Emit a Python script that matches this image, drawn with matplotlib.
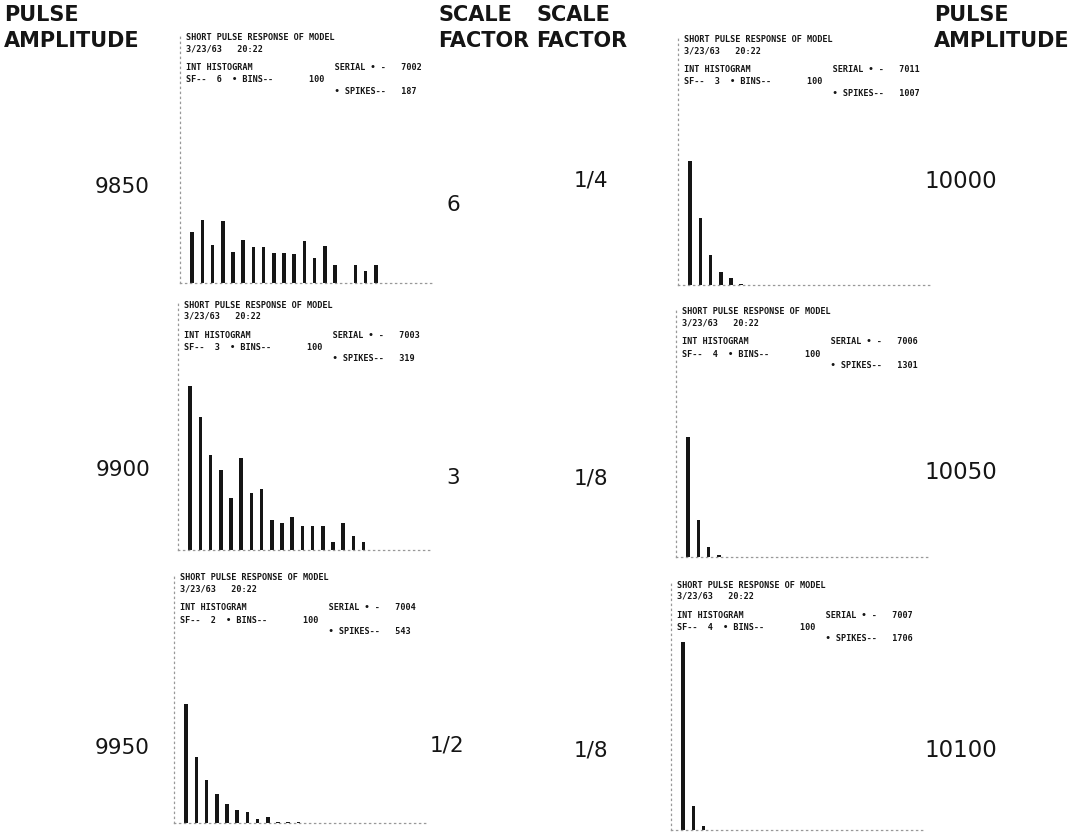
import matplotlib.pyplot as plt
import numpy as np

W, H = 1092, 838

# interval histograms, bar heights (display units)
amplitudes = ["9850", "9900", "9950", "10000", "10050", "10100"]
scale_factors = ["6", "3", "1/2", "1/4", "1/8", "1/8"]
serials = ["7002", "7003", "7004", "7011", "7006", "7007"]
sf_codes = ["6", "3", "2", "3", "4", "4"]
spikes = ["187", "319", "543", "1007", "1301", "1706"]

counts_9850 = [51, 63, 38, 62, 31, 43, 36, 36, 30, 30, 29, 42, 25, 37, 18, 0, 18, 12, 18]
counts_9900 = [164, 133, 95, 80, 52, 92, 57, 61, 30, 27, 33, 24, 24, 24, 8, 27, 14, 8]
counts_9950 = [119, 66, 43, 29, 19, 13, 11, 4.3, 6.3, 1.5, 1.5, 1, 0.3]
counts_10000 = [124, 67, 30, 13, 7, 1]
counts_10050 = [120, 37, 10, 2.5]
counts_10100 = [188, 24, 4]
all_counts = [counts_9850, counts_9900, counts_9950,
              counts_10000, counts_10050, counts_10100]

# panel placement in pixels: (axis left, baseline y)
panels = [(180, 283), (178, 550), (174, 823),
          (678, 285), (676, 557), (671, 830)]
BIN_PX = 10.2
N_BINS = 25
AX_H = 250

ink = "#151515"
mono = dict(family="DejaVu Sans Mono", weight="bold", size=6.1, color=ink)


def fx(x):
    return x / W


def fy(y):
    return 1 - y / H


fig = plt.figure(figsize=(W / 100, H / 100), dpi=100)

for i, (left, base) in enumerate(panels):
    ax = fig.add_axes([fx(left), fy(base), N_BINS * BIN_PX / W, AX_H / H])
    vals = all_counts[i]
    ax.bar(np.arange(len(vals)), vals, width=0.36, color=ink)
    ax.set_xlim(-1.2, N_BINS - 1.2)
    ax.set_ylim(0, AX_H)
    for s in ["top", "right"]:
        ax.spines[s].set_visible(False)
    for s in ["left", "bottom"]:
        ax.spines[s].set_linestyle((0, (1, 3)))
        ax.spines[s].set_color("#999999")
        ax.spines[s].set_linewidth(0.9)
    ax.set_xticks([])
    ax.set_yticks([])
    ax.patch.set_alpha(0)

    # printout header
    hx = left + 6
    top = base - 245
    lines = [
        (0, "SHORT PULSE RESPONSE OF MODEL"),
        (11, "3/23/63   20:22"),
        (30, "INT HISTOGRAM" + " " * 16 + "SERIAL • -   " + serials[i]),
        (42, "SF--  " + sf_codes[i] + "  • BINS--       100"),
        (53, " " * 29 + "• SPIKES--   " + spikes[i]),
    ]
    for dy, txt in lines:
        fig.text(fx(hx), fy(top + dy), txt, va="center", ha="left", **mono)

# column headings
big = dict(family="DejaVu Sans", weight="bold", size=15, color=ink)
for x, word1, word2 in [(4, "PULSE", "AMPLITUDE"), (438, "SCALE", "FACTOR"),
                        (536, "SCALE", "FACTOR"), (934, "PULSE", "AMPLITUDE")]:
    fig.text(fx(x), fy(15), word1, va="center", ha="left", **big)
    fig.text(fx(x), fy(41), word2, va="center", ha="left", **big)

# row labels
num = dict(family="DejaVu Sans", size=15.5, color=ink)
row_y = [187, 470, 748]
left_sf_x = [446, 446, 430]
left_sf_y = [205, 478, 745]
right_sf_y = [180, 478, 750]
right_y = [182, 472, 750]
for r in range(3):
    fig.text(fx(150), fy(row_y[r]), amplitudes[r], ha="right", va="center", **num)
    fig.text(fx(left_sf_x[r]), fy(left_sf_y[r]), scale_factors[r],
             ha="left", va="center", **num)
    fig.text(fx(574), fy(right_sf_y[r]), scale_factors[r + 3],
             ha="left", va="center", **num)
    fig.text(fx(924), fy(right_y[r]), amplitudes[r + 3], ha="left", va="center",
             fontsize=16.5, family="DejaVu Sans", color=ink)

fig.savefig("out.png", dpi=100)
